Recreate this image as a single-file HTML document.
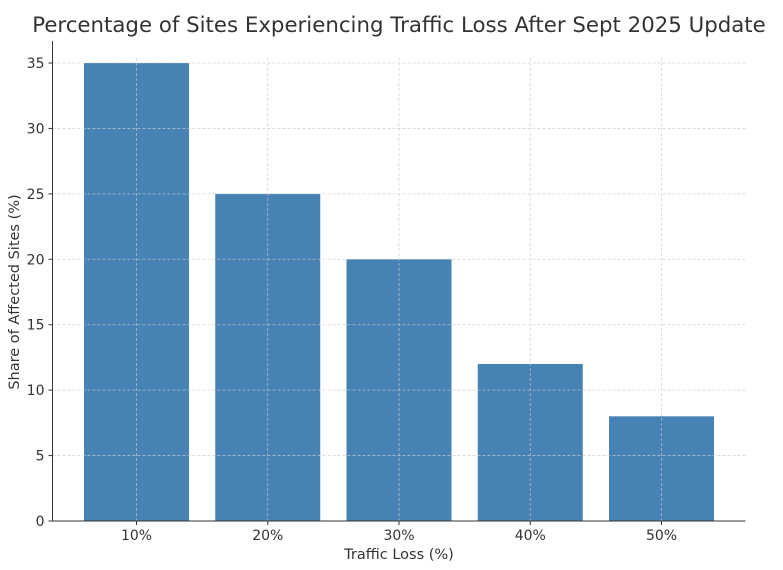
<!DOCTYPE html>
<html><head><meta charset="utf-8"><style>
body{margin:0;background:#fff;}
svg{display:block;font-family:"DejaVu Sans","Liberation Sans",sans-serif;}
</style></head><body>
<svg id="chart" width="783" height="570">
<text x="399" y="32" font-size="21.3" fill="#333" text-anchor="middle">Percentage of Sites Experiencing Traffic Loss After Sept 2025 Update</text>
<g id="bars"></g><g id="grid"></g><g id="axes"></g>
<text x="399" y="559" font-size="14.5" fill="#333" text-anchor="middle">Traffic Loss (%)</text>
<text transform="translate(19,292) rotate(-90)" font-size="14.5" fill="#333" text-anchor="middle">Share of Affected Sites (%)</text>
</svg>
<script>
const categories = ["10%","20%","30%","40%","50%"];
const values = [35,25,20,12,8];
const yTicks = [0,5,10,15,20,25,30,35];
const NS="http://www.w3.org/2000/svg";
const x0=136.5, step=131.25, bw=105, yBase=521, yTop=63;
const xs=i=>x0+i*step;
const ys=v=>yBase-(v/35)*(yBase-yTop);
const left=52.5, right=xs(categories.length-1)+0.64*step;
function mk(tag,attrs,parent){const e=document.createElementNS(NS,tag);for(const k in attrs)e.setAttribute(k,attrs[k]);parent.appendChild(e);return e;}
const grid=document.getElementById('grid'),bars=document.getElementById('bars'),axes=document.getElementById('axes');
yTicks.forEach(t=>{
  const g=mk('line',{x1:left,x2:right,y1:ys(t),y2:ys(t),stroke:'#ccc','stroke-opacity':0.8,'stroke-dasharray':'3,2','stroke-width':0.8},grid);
  
  
  const tk=mk('line',{x1:left-4,x2:left,y1:ys(t),y2:ys(t),stroke:'#333'},axes);
  
  
  const lb=mk('text',{x:left-8,y:ys(t)+5,'font-size':14,fill:'#333','text-anchor':'end'},axes);
  lb.textContent=t;
  
  
});
categories.forEach((c,i)=>{
  const g=mk('line',{x1:xs(i),x2:xs(i),y1:yTop-5,y2:yBase,stroke:'#ccc','stroke-opacity':0.8,'stroke-dasharray':'3,2','stroke-width':0.8},grid);
  
  
  const b=mk('rect',{x:xs(i)-bw/2,y:ys(values[i]),width:bw,height:yBase-ys(values[i]),fill:'#4682b4'},bars);
  
  
  const tk=mk('line',{x1:xs(i),x2:xs(i),y1:yBase,y2:yBase+4,stroke:'#333'},axes);
  
  
  const lb=mk('text',{x:xs(i),y:yBase+19,'font-size':14,fill:'#333','text-anchor':'middle'},axes);
  lb.textContent=c;
  
  
});
const la=mk('line',{x1:left,x2:left,y1:yTop-22,y2:yBase,stroke:'#333','stroke-width':1},axes);


const ba=mk('line',{x1:left,x2:right,y1:yBase,y2:yBase,stroke:'#333','stroke-width':1},axes);


</script>
</body></html>
